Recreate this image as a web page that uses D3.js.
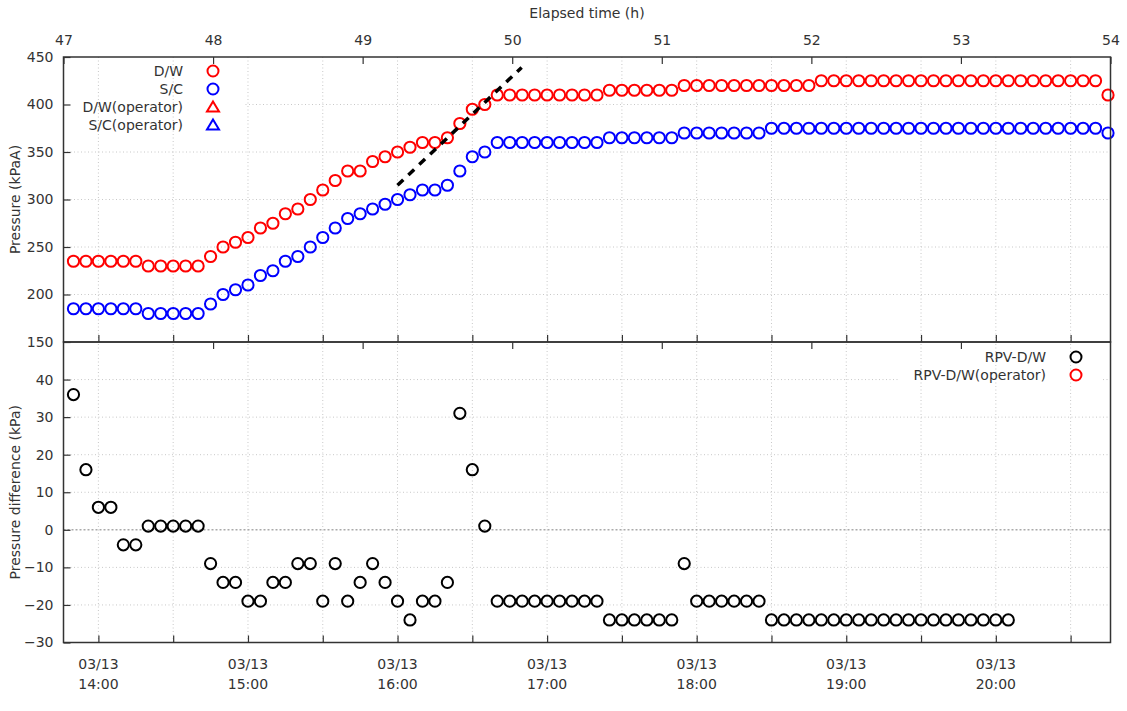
<!DOCTYPE html>
<html>
<head>
<meta charset="utf-8">
<script src="https://cdn.jsdelivr.net/npm/d3@7"></script>
<style>
  body { margin: 0; background: #fff; }
  text { font-family: "DejaVu Sans", sans-serif; font-size: 14px; fill: #333; }
</style>
</head>
<body>
<svg width="1127" height="711"></svg>
<script>
// sample times: every 5 min, 03/13 13:50 .. 20:45
var times = d3.timeMinute.every(5).range(new Date(2011, 2, 13, 13, 50), new Date(2011, 2, 13, 20, 46));

// D/W pressure (kPaA)
var dw = [235, 235, 235, 235, 235, 235, 230, 230, 230, 230, 230,
  240, 250, 255, 260, 270, 275, 285, 290, 300, 310, 320, 330, 330, 340, 345, 350, 355, 360, 360, 365, 380, 395, 400,
  410, 410, 410, 410, 410, 410, 410, 410, 410,
  415, 415, 415, 415, 415, 415,
  420, 420, 420, 420, 420, 420, 420, 420, 420, 420, 420,
  425, 425, 425, 425, 425, 425, 425, 425, 425, 425, 425, 425, 425, 425, 425, 425, 425, 425, 425, 425, 425, 425, 425,
  410];

// S/C pressure (kPaA)
var sc = [185, 185, 185, 185, 185, 185, 180, 180, 180, 180, 180,
  190, 200, 205, 210, 220, 225, 235, 240, 250, 260, 270, 280, 285, 290, 295, 300, 305, 310, 310, 315, 330, 345, 350,
  360, 360, 360, 360, 360, 360, 360, 360, 360,
  365, 365, 365, 365, 365, 365,
  370, 370, 370, 370, 370, 370, 370,
  375, 375, 375, 375, 375, 375, 375, 375, 375, 375, 375, 375, 375, 375, 375, 375, 375, 375, 375, 375, 375, 375, 375, 375, 375, 375, 375,
  370];

// RPV - D/W (kPa)
var rpvDiff = [36, 16, 6, 6, -4, -4, 1, 1, 1, 1, 1, -9, -14, -14, -19, -19, -14, -14, -9, -9, -19, -9, -19, -14, -9, -14, -19, -24, -19, -19, -14, 31, 16, 1,
  -19, -19, -19, -19, -19, -19, -19, -19, -19,
  -24, -24, -24, -24, -24, -24,
  -9,
  -19, -19, -19, -19, -19, -19,
  -24, -24, -24, -24, -24, -24, -24, -24, -24, -24, -24, -24, -24, -24, -24, -24, -24, -24, -24, -24];

// operator readings (none in this window)
var dwOp = [], scOp = [], rpvDiffOp = [];

// trend guide (elapsed h, kPaA)
var trendH = [49.233, 50.063];
var trendP = [315, 439];

var elapsedTicks = [47, 48, 49, 50, 51, 52, 53, 54];
var pTicks = [150, 200, 250, 300, 350, 400, 450];
var dTicks = [-30, -20, -10, 0, 10, 20, 30, 40];

var svg = d3.select("svg");
var L = 63.5, R = 1110.5, T1 = 57, B1 = 342, B2 = 642.5;

var x = d3.scaleTime()
    .domain([new Date(2011, 2, 13, 13, 46), new Date(2011, 2, 13, 20, 46)])
    .range([L, R]);
var xe = d3.scaleLinear().domain([47, 54]).range([L, R]);
var y1 = d3.scaleLinear().domain([150, 450]).range([B1, T1]);
var y2 = d3.scaleLinear().domain([-30, 50]).range([B2, B1]);

var halfHours = d3.timeMinute.every(30).range(new Date(2011, 2, 13, 14, 0), new Date(2011, 2, 13, 20, 46));
var hours = d3.timeHour.every(1).range(new Date(2011, 2, 13, 14, 0), new Date(2011, 2, 13, 20, 46));

var gridStyle = function(sel) {
  sel.attr("stroke", "#c8c8c8").attr("stroke-width", 1).attr("stroke-dasharray", "1,2.5");
};

// horizontal grid
svg.append("g").selectAll("line").data(pTicks.filter(function(d) { return d > 150 && d < 450; }))
  .enter().append("line")
    .attr("x1", L).attr("x2", R)
    .attr("y1", function(d) { return y1(d); }).attr("y2", function(d) { return y1(d); })
    .call(gridStyle);
svg.append("g").selectAll("line").data(dTicks.filter(function(d) { return d > -30 && d != 0; }))
  .enter().append("line")
    .attr("x1", L).attr("x2", R)
    .attr("y1", function(d) { return y2(d); }).attr("y2", function(d) { return y2(d); })
    .call(gridStyle);

// opaque key boxes
svg.append("rect").attr("x", L).attr("y", T1).attr("width", 180).attr("height", 77).attr("fill", "#fff");
svg.append("rect").attr("x", 898).attr("y", B1).attr("width", 203).attr("height", 44).attr("fill", "#fff");

// vertical grid
svg.append("g").selectAll("line").data(halfHours)
  .enter().append("line")
    .attr("x1", function(d) { return x(d); }).attr("x2", function(d) { return x(d); })
    .attr("y1", T1).attr("y2", B2)
    .call(gridStyle);

// zero line
svg.append("line")
    .attr("x1", L).attr("x2", R).attr("y1", y2(0)).attr("y2", y2(0))
    .attr("stroke", "#aaa").attr("stroke-width", 1.5).attr("stroke-dasharray", "2,2");

// data points
function circles(vals, yScale, color) {
  svg.append("g").selectAll("circle")
    .data(vals.map(function(v, i) { return { t: times[i], v: v }; }))
    .enter().append("circle")
      .attr("cx", function(d) { return x(d.t); })
      .attr("cy", function(d) { return yScale(d.v); })
      .attr("r", 5.6)
      .attr("fill", "none")
      .attr("stroke", color)
      .attr("stroke-width", 2);
}
circles(dw, y1, "#ff0000");
circles(sc, y1, "#0000ff");
circles(rpvDiff, y2, "#000");
circles(rpvDiffOp, y2, "#ff0000");

// trend line
svg.append("line")
    .attr("x1", xe(trendH[0])).attr("y1", y1(trendP[0]))
    .attr("x2", xe(trendH[1])).attr("y2", y1(trendP[1]))
    .attr("stroke", "#000").attr("stroke-width", 3.5).attr("stroke-dasharray", "8,7");

// frames
[[T1, B1], [B1, B2]].forEach(function(p) {
  svg.append("rect").attr("x", L).attr("y", p[0]).attr("width", R - L).attr("height", p[1] - p[0])
    .attr("fill", "none").attr("stroke", "#333").attr("stroke-width", 1.5);
});

function clean(g) {
  g.select(".domain").remove();
  g.selectAll(".tick line").attr("stroke", "#333").attr("stroke-width", 1.2);
  g.selectAll(".tick text").attr("fill", "#333").style("font-family", "DejaVu Sans").style("font-size", "14px");
}

// elapsed axis on top
svg.append("g").attr("transform", "translate(0," + T1 + ")")
  .call(d3.axisTop(xe).tickValues(elapsedTicks).tickFormat(d3.format("d")).tickSize(-7).tickSizeOuter(0).tickPadding(12))
  .call(clean);
svg.append("g").attr("transform", "translate(0," + B1 + ")")
  .call(d3.axisTop(xe).tickValues(elapsedTicks.slice(1, -1)).tickFormat("").tickSize(-7).tickSizeOuter(0))
  .call(clean);

// date ticks on lower edges
svg.append("g").attr("transform", "translate(0," + B1 + ")")
  .call(d3.axisBottom(x).tickValues(halfHours).tickFormat("").tickSize(-7).tickSizeOuter(0))
  .call(clean);
svg.append("g").attr("transform", "translate(0," + B2 + ")")
  .call(d3.axisBottom(x).tickValues(halfHours).tickFormat("").tickSize(-7).tickSizeOuter(0))
  .call(clean);

var fmtDay = d3.timeFormat("%m/%d"), fmtHour = d3.timeFormat("%H:%M");
var dl = svg.append("g").selectAll("text").data(hours).enter().append("text")
    .attr("text-anchor", "middle")
    .attr("x", function(d) { return x(d); });
dl.append("tspan").attr("x", function(d) { return x(d); }).attr("y", 669).text(function(d) { return fmtDay(d); });
dl.append("tspan").attr("x", function(d) { return x(d); }).attr("y", 689).text(function(d) { return fmtHour(d); });

// y axes
svg.append("g").attr("transform", "translate(" + L + ",0)")
  .call(d3.axisLeft(y1).tickValues(pTicks).tickSize(-7).tickSizeOuter(0).tickPadding(10))
  .call(clean);
svg.append("g").attr("transform", "translate(" + L + ",0)")
  .call(d3.axisLeft(y2).tickValues(dTicks).tickSize(-7).tickSizeOuter(0).tickPadding(10))
  .call(clean);

// axis titles
svg.append("text").attr("x", (L + R) / 2).attr("y", 18).attr("text-anchor", "middle").text("Elapsed time (h)");
svg.append("text").attr("transform", "translate(20," + ((T1 + B1) / 2) + ") rotate(-90)")
  .attr("text-anchor", "middle").text("Pressure (kPaA)");
svg.append("text").attr("transform", "translate(20," + ((B1 + B2) / 2) + ") rotate(-90)")
  .attr("text-anchor", "middle").text("Pressure difference (kPa)");

// legends
var keyTop = [
  { name: "D/W", color: "#ff0000", shape: "circle" },
  { name: "S/C", color: "#0000ff", shape: "circle" },
  { name: "D/W(operator)", color: "#ff0000", shape: "triangle" },
  { name: "S/C(operator)", color: "#0000ff", shape: "triangle" }
];
var keyBottom = [
  { name: "RPV-D/W", color: "#000", shape: "circle" },
  { name: "RPV-D/W(operator)", color: "#ff0000", shape: "circle" }
];

function legend(items, tx, sx, y0) {
  var g = svg.append("g").selectAll("g").data(items).enter().append("g")
      .attr("transform", function(d, i) { return "translate(0," + (y0 + i * 18) + ")"; });
  g.append("text").attr("x", tx).attr("dy", "0.35em").attr("text-anchor", "end").text(function(d) { return d.name; });
  g.append("path")
      .attr("transform", "translate(" + sx + ",0)")
      .attr("d", function(d) {
        return d.shape === "circle" ? d3.symbol(d3.symbolCircle, 95)() : "M0,-5.5L6,4.5L-6,4.5Z";
      })
      .attr("fill", "none")
      .attr("stroke", function(d) { return d.color; })
      .attr("stroke-width", 2);
}
legend(keyTop, 183, 213, 71);
legend(keyBottom, 1046, 1076, 357);
</script>
</body>
</html>
